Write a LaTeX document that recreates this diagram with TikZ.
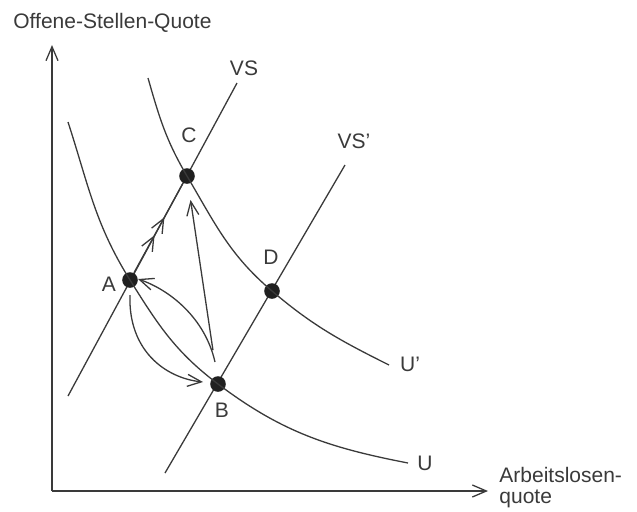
\documentclass[tikz,border=0pt]{standalone}
\usepackage{fontspec}
\setmainfont{Liberation Sans}
\usetikzlibrary{arrows.meta,decorations.markings,calc}
\definecolor{ink}{HTML}{3A3A3A}
\definecolor{dotfill}{HTML}{202020}
\tikzset{
  line/.style={draw=ink, line width=0.65pt},
  tip/.style={-{Straight Barb[length=7pt,width=6pt]}},
  dot/.style={circle, fill=dotfill, inner sep=0pt, minimum size=7.8pt},
  lbl/.style={font=\fontsize{10.5pt}{12pt}\selectfont, text=ink, inner sep=0pt},
}
\begin{document}
\begin{tikzpicture}[x=0.5pt,y=-0.5pt]
\useasboundingbox (0,0) rectangle (637,511);
% axes
\coordinate (O) at (52,491);
\coordinate (Ytop) at (52,45);
\coordinate (Xend) at (488,491);
\draw[line,tip] (O) -- (Ytop);
\draw[line,tip] (O) -- (Xend);
\node[lbl,anchor=west] (ylab) at (13,23) {Offene-Stellen-Quote};
\node[lbl,anchor=north west,align=left] (xlab) at (499,467) {Arbeitslosen-\\[-1.5pt]quote};
% VS lines
\coordinate (VSlo) at (68,396);
\coordinate (VShi) at (237,83);
\coordinate (VSplo) at (165,473);
\coordinate (VSphi) at (345,165);
\draw[line] (VSlo) -- (VShi);
\draw[line] (VSplo) -- (VSphi);
% points
\node[dot] (A) at (130,280) {};
\node[dot] (C) at (187,176) {};
\node[dot] (B) at (218,384) {};
\node[dot] (D) at (272,291) {};
% U curves
\coordinate (U0) at (68,122);
\coordinate (U3) at (408,463);
\draw[line] (U0) to[out=-72,in=122] (A.center)
  to[out=-58,in=143] (B.center) to[out=-37,in=169] (U3);
\coordinate (V0) at (148,78);
\coordinate (V3) at (389,365);
\draw[line] (V0) to[out=-74,in=120.5] (C.center)
  to[out=-59.5,in=139.6] (D.center) to[out=-40.4,in=153.4] (V3);
% arrows on VS between A and C
\draw[line, postaction={decorate}, decoration={markings,
  mark=at position 0.42 with {\arrow[ink]{Straight Barb[length=7pt,width=6pt]}},
  mark=at position 0.62 with {\arrow[ink]{Straight Barb[length=7pt,width=6pt]}}}] (A) -- (C);
% B -> C straight
\draw[line,tip,shorten <=13pt,shorten >=8pt] (B) -- (C);
% curved arrows
\draw[line,tip] ($(B)+(-3,-22)$) .. controls (205,318) and (170,290) .. ($(A)+(8,-1)$);
\draw[line,tip] ($(A)+(0,15)$) .. controls (128,350) and (165,378) .. ($(B)+(-15,-2)$);
% labels
\node[lbl] (lVS) at (244,68) {VS};
\node[lbl] (lVSp) at (354,141) {VS'};
\node[lbl] (lC) at (189,135) {C};
\node[lbl] (lD) at (271,257) {D};
\node[lbl] (lA) at (109,284) {A};
\node[lbl] (lB) at (222,410) {B};
\node[lbl] (lUp) at (410,364) {U'};
\node[lbl] (lU) at (425,463) {U};
\end{tikzpicture}
\end{document}
